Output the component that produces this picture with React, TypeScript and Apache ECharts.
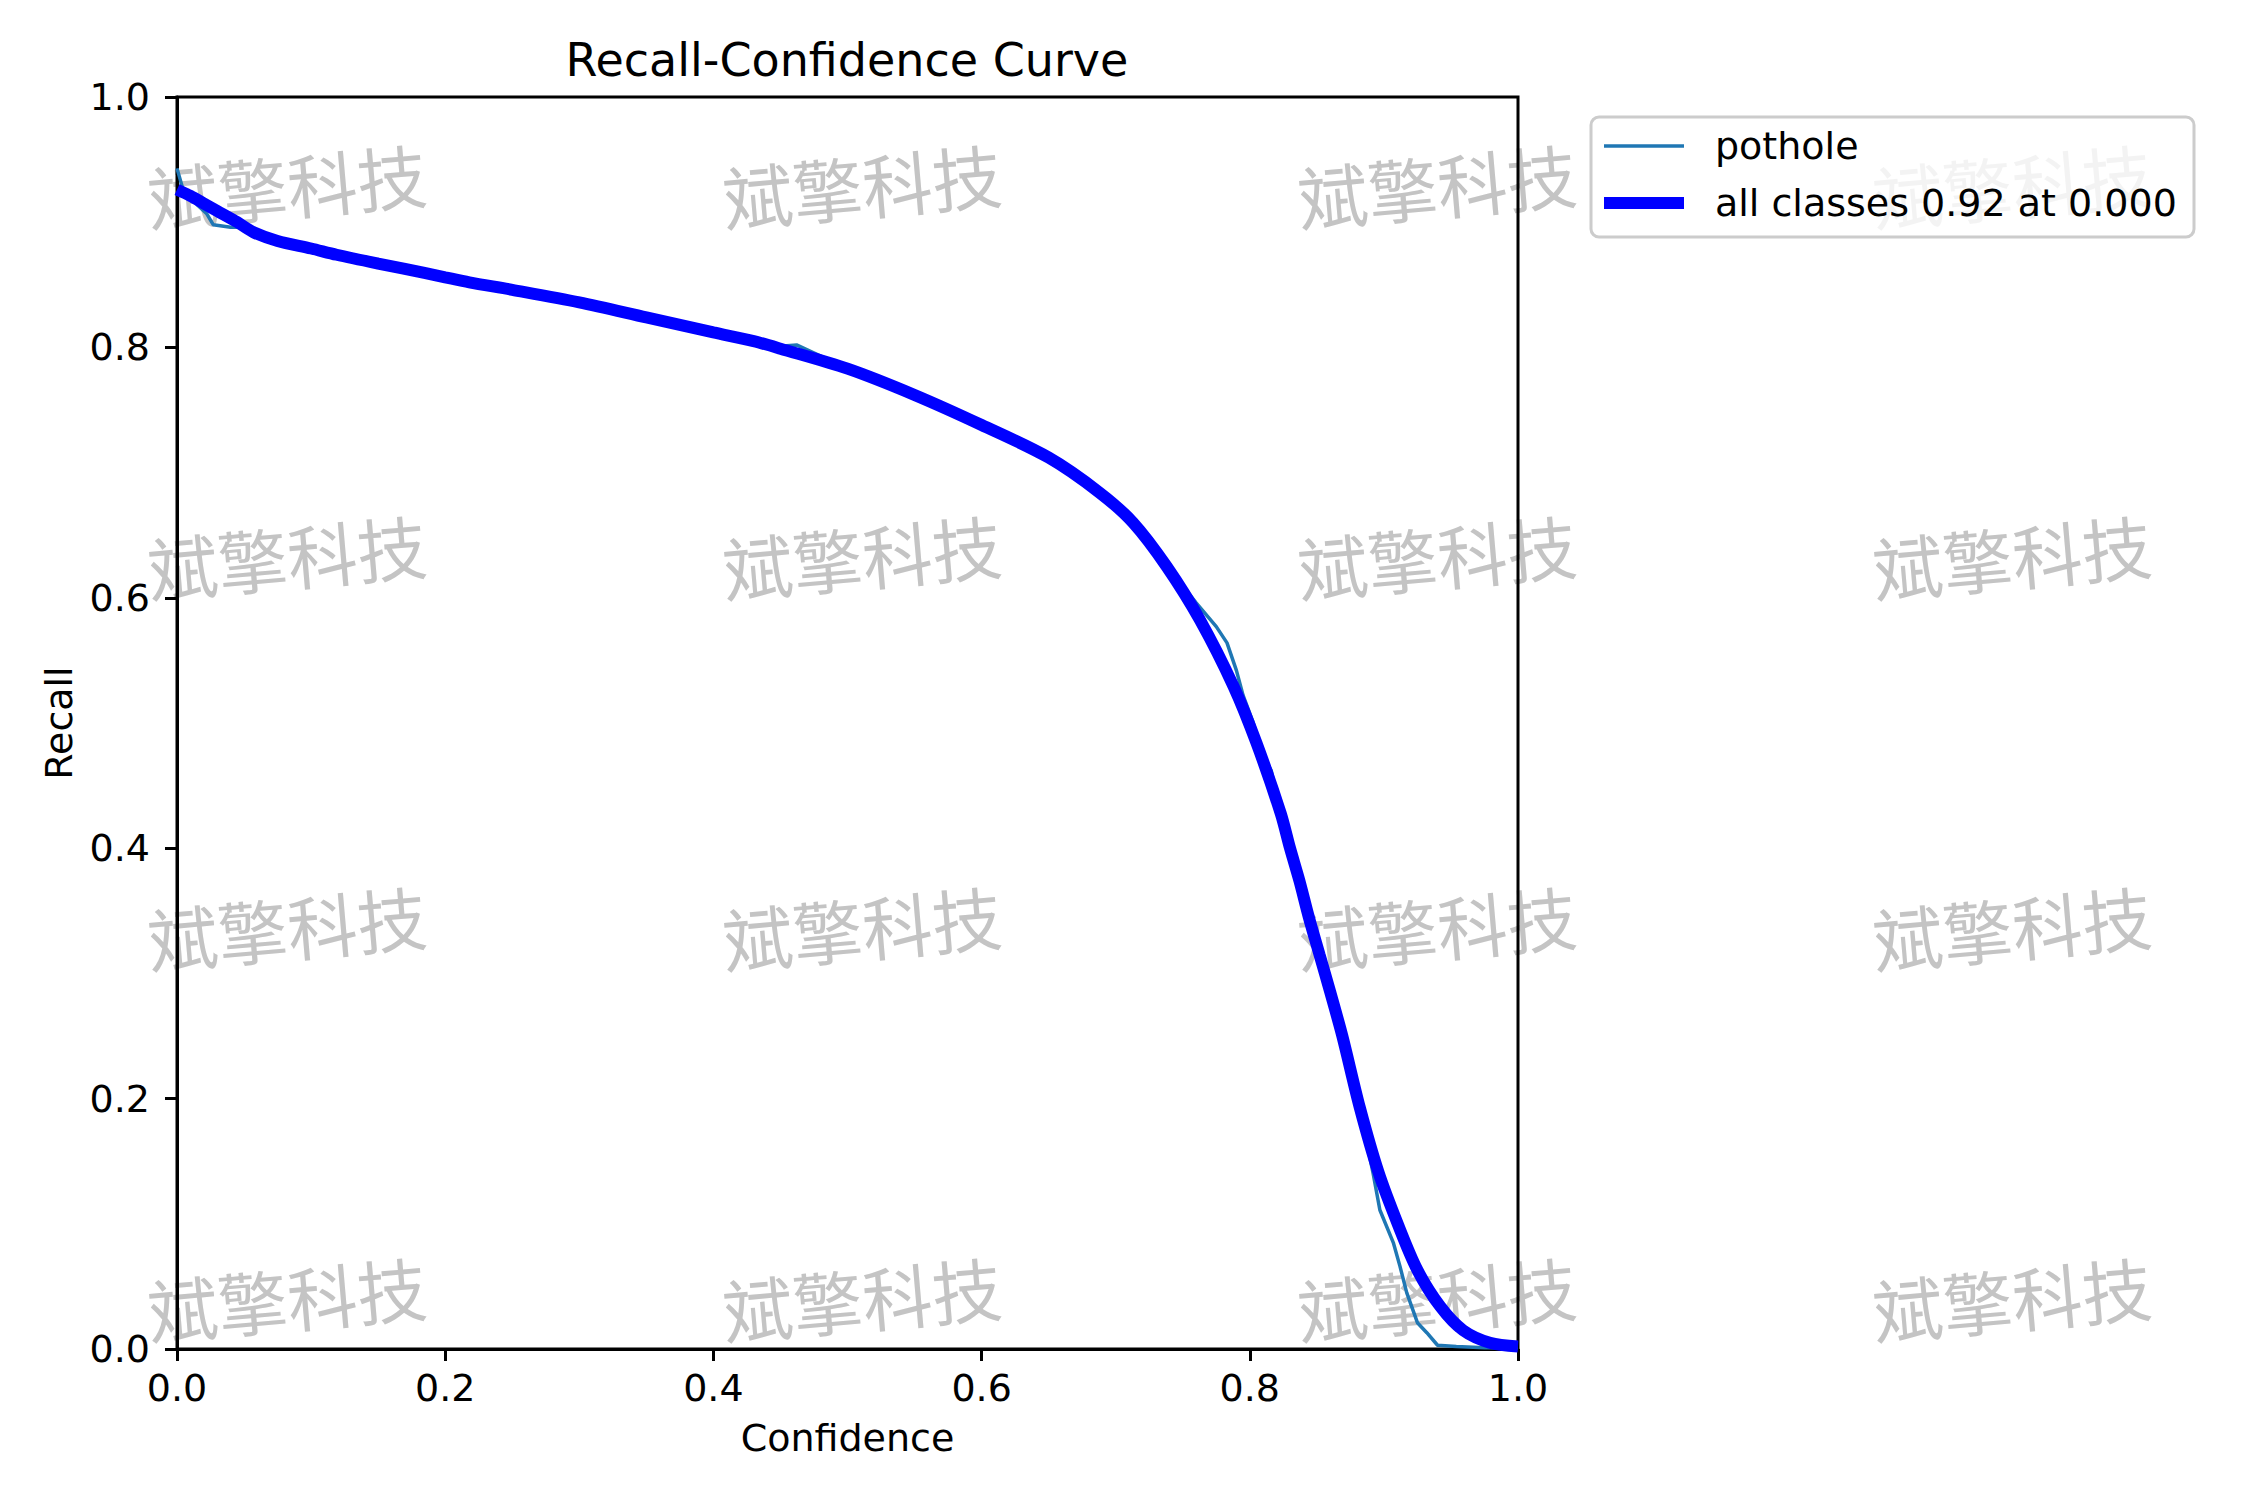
import React, { useEffect, useRef } from "react";
import * as echarts from "echarts";

const xTicks = [0, 0.2, 0.4, 0.6, 0.8, 1.0];
const yTicks = [0, 0.2, 0.4, 0.6, 0.8, 1.0];

const potholeConfidence = [
  0, 0.004, 0.015, 0.022, 0.027, 0.04, 0.048, 0.057, 0.075, 0.1, 0.15, 0.2, 0.25, 0.3, 0.35,
  0.4, 0.43, 0.45, 0.462, 0.47, 0.5, 0.55, 0.6, 0.65, 0.688, 0.705, 0.726, 0.738, 0.76, 0.775,
  0.783, 0.79, 0.795, 0.802, 0.81, 0.816, 0.821, 0.826, 0.837, 0.852, 0.869, 0.882, 0.892, 0.897, 0.907,
  0.912, 0.917, 0.925, 0.932, 0.94, 0.954, 0.975, 1.0,
];
const potholeRecall = [
  0.943, 0.928, 0.914, 0.907, 0.898, 0.896, 0.896, 0.891, 0.884, 0.878, 0.867, 0.856, 0.846, 0.836, 0.824,
  0.812, 0.805, 0.801, 0.802, 0.798, 0.783, 0.762, 0.738, 0.712, 0.686, 0.672, 0.648, 0.626, 0.596, 0.577,
  0.564, 0.542, 0.522, 0.502, 0.474, 0.462, 0.437, 0.418, 0.372, 0.316, 0.248, 0.192, 0.14, 0.111, 0.085,
  0.066, 0.045, 0.021, 0.013, 0.003, 0.002, 0.001, 0.001,
];

const allConfidence = [
  0, 0.01, 0.02, 0.03, 0.045, 0.057, 0.075, 0.1, 0.119, 0.15, 0.169, 0.2, 0.218, 0.25, 0.3,
  0.35, 0.4, 0.43, 0.45, 0.5, 0.55, 0.6, 0.65, 0.688, 0.713, 0.738, 0.763, 0.788, 0.805, 0.823,
  0.83, 0.837, 0.844, 0.852, 0.86, 0.869, 0.882, 0.896, 0.911, 0.925, 0.942, 0.959, 0.979, 1.0,
];
const allRecall = [
  0.926, 0.921, 0.915, 0.909, 0.9, 0.892, 0.885, 0.879, 0.874, 0.867, 0.863, 0.856, 0.852, 0.846, 0.836,
  0.824, 0.812, 0.805, 0.799, 0.783, 0.762, 0.738, 0.712, 0.684, 0.66, 0.625, 0.582, 0.529, 0.484, 0.428,
  0.4, 0.374, 0.345, 0.315, 0.285, 0.25, 0.193, 0.141, 0.098, 0.063, 0.034, 0.015, 0.005, 0.002,
];

const legendLabels = ["pothole", "all classes 0.92 at 0.000"];
const watermarkText = "斌擎科技";
const watermarkCols = [287, 862, 1437, 2012];
const watermarkRows = [184, 555, 926, 1297];

const FONT = "'DejaVu Sans', sans-serif";

export default function App() {
  const ref = useRef<HTMLDivElement>(null);
  useEffect(() => {
    document.body.style.margin = "0";
    const chart = echarts.init(ref.current!, undefined, { renderer: "svg" });
    const zip = (a: number[], b: number[]) => a.map((v, i) => [v, b[i]]);

    const watermarks: any[] = [];
    watermarkRows.forEach((y) =>
      watermarkCols.forEach((x) =>
        watermarks.push({
          type: "text",
          x,
          y,
          rotation: (5 * Math.PI) / 180,
          z: 0,
          silent: true,
          style: {
            text: watermarkText,
            fontFamily: "'Noto Sans CJK SC', sans-serif",
            fontSize: 70,
            fill: "#c4c4c4",
            textAlign: "center",
            textVerticalAlign: "middle",
          },
        })
      )
    );

    const axisCommon = {
      type: "value",
      min: 0,
      max: 1,
      interval: 0.2,
      splitLine: { show: false },
      axisLine: { show: true, lineStyle: { color: "#000", width: 3 } },
      axisTick: { show: true, inside: false, length: 12, lineStyle: { color: "#000", width: 3 } },
      nameTextStyle: { fontFamily: FONT, fontSize: 38, color: "#000" },
      nameLocation: "middle",
    };

    chart.setOption({
      animation: false,
      backgroundColor: "#fff",
      grid: {
        left: 177,
        top: 97,
        width: 1341,
        height: 1252,
        show: true,
        borderColor: "#000",
        borderWidth: 3,
        z: 3,
      },
      xAxis: {
        ...axisCommon,
        name: "Confidence",
        nameGap: 70,
        axisLabel: {
          margin: 20,
          fontFamily: FONT,
          fontSize: 38,
          color: "#000",
          formatter: (v: number) => (xTicks.includes(Math.round(v * 10) / 10) ? v.toFixed(1) : ""),
        },
      },
      yAxis: {
        ...axisCommon,
        name: "Recall",
        nameGap: 99,
        axisLabel: {
          margin: 27,
          fontFamily: FONT,
          fontSize: 38,
          color: "#000",
          formatter: (v: number) => (yTicks.includes(Math.round(v * 10) / 10) ? v.toFixed(1) : ""),
        },
      },
      series: [
        {
          name: legendLabels[0],
          type: "line",
          data: zip(potholeConfidence, potholeRecall),
          showSymbol: false,
          symbol: "none",
          lineStyle: { color: "#1f77b4", width: 3.5 },
          z: 4,
        },
        {
          name: legendLabels[1],
          type: "line",
          data: zip(allConfidence, allRecall),
          showSymbol: false,
          symbol: "none",
          smooth: 0.3,
          lineStyle: { color: "#0000ff", width: 12 },
          z: 5,
        },
      ],
      graphic: [
        ...watermarks,
        {
          type: "text",
          x: 847,
          y: 60,
          z: 10,
          style: {
            text: "Recall-Confidence Curve",
            fontFamily: FONT,
            fontSize: 46,
            fill: "#000",
            textAlign: "center",
            textVerticalAlign: "middle",
          },
        },
        {
          type: "rect",
          z: 10,
          shape: { x: 1591, y: 117, width: 603, height: 120, r: 8 },
          style: { fill: "rgba(255,255,255,0.8)", stroke: "#cccccc", lineWidth: 3 },
        },
        {
          type: "line",
          z: 11,
          shape: { x1: 1604, y1: 146, x2: 1684, y2: 146 },
          style: { stroke: "#1f77b4", lineWidth: 3.5 },
        },
        {
          type: "line",
          z: 11,
          shape: { x1: 1604, y1: 203, x2: 1684, y2: 203 },
          style: { stroke: "#0000ff", lineWidth: 12 },
        },
        {
          type: "text",
          x: 1715,
          y: 146,
          z: 11,
          style: {
            text: legendLabels[0],
            fontFamily: FONT,
            fontSize: 38,
            fill: "#000",
            textAlign: "left",
            textVerticalAlign: "middle",
          },
        },
        {
          type: "text",
          x: 1715,
          y: 203,
          z: 11,
          style: {
            text: legendLabels[1],
            fontFamily: FONT,
            fontSize: 38,
            fill: "#000",
            textAlign: "left",
            textVerticalAlign: "middle",
          },
        },
      ],
    });
    return () => chart.dispose();
  }, []);
  return <div ref={ref} style={{ width: 2250, height: 1500 }} />;
}
